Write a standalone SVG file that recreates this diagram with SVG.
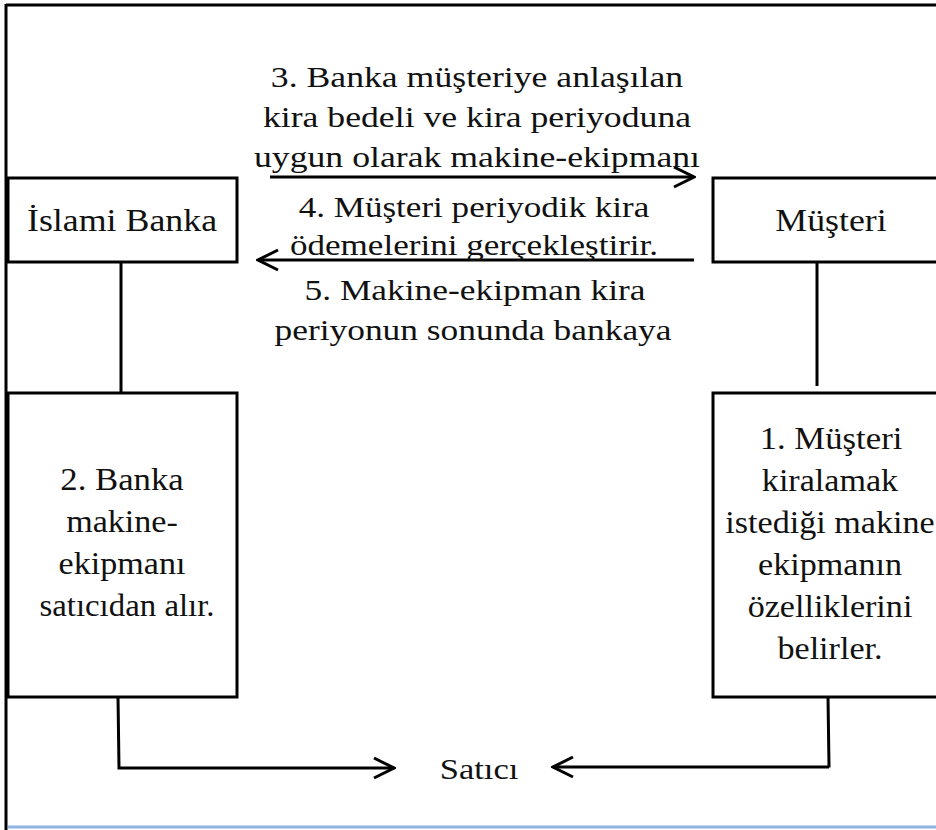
<svg xmlns="http://www.w3.org/2000/svg" width="936" height="830" viewBox="0 0 936 830">
<defs>
<style>
.bx{fill:#fff;stroke:#000;stroke-width:3}
.ln{fill:none;stroke:#000;stroke-width:3}
</style>
<marker id="ah" viewBox="0 0 24 24" refX="22" refY="12" markerWidth="24" markerHeight="24" markerUnits="userSpaceOnUse" orient="auto">
<polyline points="2,2 22,12 2,22" fill="none" stroke="#000" stroke-width="3"/>
</marker>
</defs>
<rect width="936" height="830" fill="#fff"/>
<g id="frame">
<line x1="6" y1="5" x2="936" y2="5" class="ln"/>
<line x1="6" y1="4" x2="6" y2="830" class="ln"/>
<line x1="8" y1="827" x2="936" y2="827" stroke="#8fb4e3" stroke-width="3"/>
</g>
<g id="connectors">
<line x1="121" y1="262" x2="121" y2="393" class="ln"/>
<line x1="817" y1="262" x2="817" y2="386" class="ln"/>
<line x1="270" y1="177" x2="694" y2="177" class="ln" marker-end="url(#ah)"/>
<line x1="694" y1="260" x2="258" y2="260" class="ln" marker-end="url(#ah)"/>
<polyline points="118,697 119,768 128,768" class="ln"/>
<line x1="128" y1="768" x2="394" y2="768" class="ln" marker-end="url(#ah)"/>
<polyline points="828,697 829,766 828,766" class="ln"/>
<line x1="829" y1="767" x2="553" y2="767" class="ln" marker-end="url(#ah)"/>
</g>
<g id="labels" font-family="Liberation Serif, Times New Roman, serif" font-size="30" fill="#111" text-anchor="middle">
<text transform="translate(477,87) scale(1.19,1)">3. Banka müşteriye anlaşılan</text>
<text transform="translate(477,127) scale(1.19,1)">kira bedeli ve kira periyoduna</text>
<text transform="translate(477,167) scale(1.19,1)">uygun olarak makine-ekipmanı</text>
<text transform="translate(474,217) scale(1.17,1)">4. Müşteri periyodik kira</text>
<text transform="translate(474,255) scale(1.17,1)">ödemelerini gerçekleştirir.</text>
<text transform="translate(475,300) scale(1.18,1)">5. Makine-ekipman kira</text>
<text transform="translate(473,340) scale(1.18,1)">periyonun sonunda bankaya</text>
</g>
<g id="islami-banka">
<rect x="8" y="178" width="229" height="84" class="bx"/>
<text transform="translate(122,231) scale(1.12,1)" font-family="Liberation Serif, Times New Roman, serif" font-size="32" fill="#111" text-anchor="middle">İslami Banka</text>
</g>
<g id="musteri">
<rect x="713" y="178" width="240" height="84" class="bx"/>
<text transform="translate(831,231) scale(1.12,1)" font-family="Liberation Serif, Times New Roman, serif" font-size="32" fill="#111" text-anchor="middle">Müşteri</text>
</g>
<g id="step2" font-family="Liberation Serif, Times New Roman, serif" font-size="31" fill="#111" text-anchor="middle">
<rect x="8" y="393" width="229" height="304" class="bx"/>
<text transform="translate(122,490) scale(1.12,1)">2. Banka</text>
<text transform="translate(122,532) scale(1.1,1)">makine-</text>
<text transform="translate(122,574) scale(1.1,1)">ekipmanı</text>
<text transform="translate(127,616) scale(1.06,1)">satıcıdan alır.</text>
</g>
<g id="step1" font-family="Liberation Serif, Times New Roman, serif" font-size="31" fill="#111" text-anchor="middle">
<rect x="713" y="393" width="240" height="304" class="bx"/>
<text transform="translate(831,449) scale(1.12,1)">1. Müşteri</text>
<text transform="translate(830,491) scale(1.1,1)">kiralamak</text>
<text transform="translate(830,533) scale(1.1,1)">istediği makine</text>
<text transform="translate(830,575) scale(1.1,1)">ekipmanın</text>
<text transform="translate(830,617) scale(1.1,1)">özelliklerini</text>
<text transform="translate(830,659) scale(1.1,1)">belirler.</text>
</g>
<g id="satici">
<text transform="translate(479,779) scale(1.15,1)" font-family="Liberation Serif, Times New Roman, serif" font-size="30" fill="#111" text-anchor="middle">Satıcı</text>
</g>
</svg>
